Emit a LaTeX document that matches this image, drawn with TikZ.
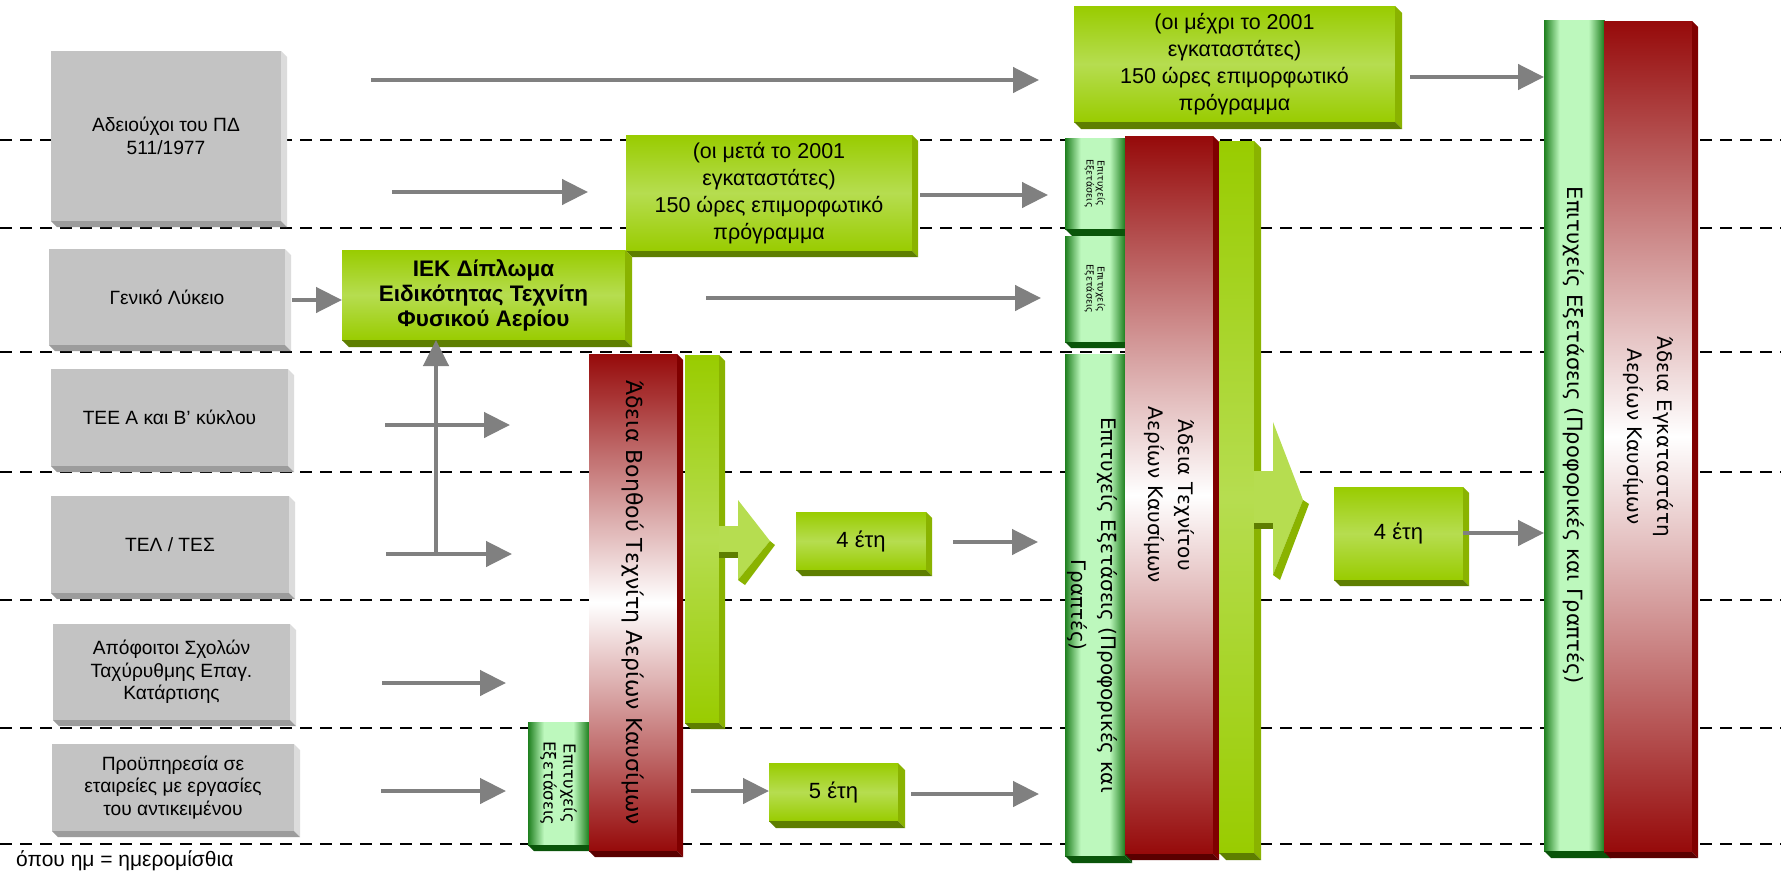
\documentclass[tikz,border=0pt]{standalone}
\usepackage{fontspec}
\setmainfont{Liberation Sans}
\newfontfamily\vfont{DejaVu Sans}
\usetikzlibrary{arrows.meta,calc}
\definecolor{limeA}{HTML}{99CC00}
\definecolor{limeB}{HTML}{B6DD50}
\definecolor{limeS}{HTML}{8AB300}
\definecolor{limeD}{HTML}{5E7E00}
\definecolor{grayM}{HTML}{C3C3C3}
\definecolor{grayS}{HTML}{DCDCDC}
\definecolor{grayD}{HTML}{9C9C9C}
\definecolor{grnD}{HTML}{1E7F1E}
\definecolor{grnL}{HTML}{BDF8BD}
\definecolor{grnB}{HTML}{0A550A}
\definecolor{redA}{HTML}{960A0A}
\definecolor{redS}{HTML}{800000}
\definecolor{redD}{HTML}{5A0000}
\definecolor{arrG}{HTML}{808080}
\pgfdeclarehorizontalshading{cyl}{100bp}{color(0bp)=(grnD); color(25bp)=(grnD); color(38bp)=(grnL); color(62bp)=(grnL); color(75bp)=(grnD); color(100bp)=(grnD)}
\pgfdeclareverticalshading{redsh}{100bp}{color(0bp)=(redA); color(25bp)=(redA); color(50bp)=(white); color(75bp)=(redA); color(100bp)=(redA)}
\pgfdeclareverticalshading{limesh}{100bp}{color(0bp)=(limeA); color(25bp)=(limeA); color(50bp)=(limeB); color(75bp)=(limeA); color(100bp)=(limeA)}
\newcommand\faces[4]{%
  \fill[#2] (#1.north east) -- ++(#4,#4) -- ($(#1.south east)+(#4,#4)$) -- (#1.south east) -- cycle;
  \fill[#3] (#1.south west) -- ++(#4,#4) -- ($(#1.south east)+(#4,#4)$) -- (#1.south east) -- cycle;}
\begin{document}
\begin{tikzpicture}[x=1pt,y=-1pt,
  box/.style={inner sep=0pt, outer sep=0pt, anchor=north west, align=center},
  gbox/.style={box, fill=grayM, font=\fontsize{19.2}{22.5}\selectfont},
  lbox/.style={box, shade, shading=limesh},
  gbar/.style={box, shade, shading=cyl},
  rbar/.style={box, shade, shading=redsh},
  vtext/.style={rotate=-90, align=center, inner sep=0pt, font=\vfont\fontsize{20}{30}\selectfont},
  tiny/.style={rotate=-90, align=center, inner sep=0pt, font=\vfont\fontsize{9.5}{11}\selectfont},
  arr/.style={draw=arrG, line width=4.5pt, -{Triangle[length=26pt,width=25pt]}},
  guide/.style={draw=black, line width=2.8pt, dash pattern=on 12pt off 8pt},
]
\path[use as bounding box, fill=white] (0,0) rectangle (1781,873);
% guide lines
\foreach \yy in {140,228,352,472,600,728,844} \draw[guide] (0,\yy) -- (1781,\yy);

% gray source boxes
\node[gbox, minimum width=230pt, minimum height=170pt] (g1) at (51,51) {Αδειούχοι του ΠΔ\\511/1977};
\faces{g1}{grayS}{grayD}{6}
\node[gbox, minimum width=236pt, minimum height=96pt] (g2) at (49,249) {Γενικό Λύκειο};
\faces{g2}{grayS}{grayD}{6}
\node[gbox, minimum width=237pt, minimum height=97pt] (g3) at (51,369) {ΤΕΕ Α και Β’ κύκλου};
\faces{g3}{grayS}{grayD}{6}
\node[gbox, minimum width=238pt, minimum height=97pt] (g4) at (51,496) {ΤΕΛ / ΤΕΣ};
\faces{g4}{grayS}{grayD}{6}
\node[gbox, minimum width=237pt, minimum height=96pt] (g5) at (53,624) {Απόφοιτοι Σχολών\\Ταχύρυθμης Επαγ.\\Κατάρτισης};
\faces{g5}{grayS}{grayD}{6}
\node[gbox, minimum width=242pt, minimum height=87pt] (g6) at (52,744) {Προϋπηρεσία σε\\εταιρείες με εργασίες\\του αντικειμένου};
\faces{g6}{grayS}{grayD}{6}

% lime boxes
\node[lbox, minimum width=321pt, minimum height=116pt, font=\fontsize{21.5}{27}\selectfont] (tb) at (1074,6) {(οι μέχρι το 2001\\εγκαταστάτες)\\150 ώρες επιμορφωτικό\\πρόγραμμα};
\faces{tb}{limeS}{limeD}{7}
\node[lbox, minimum width=286pt, minimum height=116pt, font=\fontsize{21.5}{27}\selectfont] (mb) at (626,135) {(οι μετά το 2001\\εγκαταστάτες)\\150 ώρες επιμορφωτικό\\πρόγραμμα};
\faces{mb}{limeS}{limeD}{6}
\node[lbox, minimum width=283pt, minimum height=90pt, font=\bfseries\fontsize{22.5}{25}\selectfont] (iek) at (342,250) {ΙΕΚ Δίπλωμα\\Ειδικότητας Τεχνίτη\\Φυσικού Αερίου};
\faces{iek}{limeS}{limeD}{7}

% bottom-left exam bar and helper red bar
\node[gbar, minimum width=61pt, minimum height=123pt] (e5) at (528,722) {};
\faces{e5}{grnB}{grnB}{6}
\node[tiny, font=\vfont\fontsize{16.5}{20}\selectfont] (e5t) at (e5.center) {Επιτυχείς\\Εξετάσεις};
\node[rbar, minimum width=88pt, minimum height=497pt] (r1) at (589,354) {};
\faces{r1}{redS}{redD}{6}
\node[vtext, font=\vfont\fontsize{22}{30}\selectfont] (r1t) at (r1.center) {Άδεια Βοηθού Τεχνίτη Αερίων Καυσίμων};

% lime bar 1 with arrow
\node[lbox, minimum width=34pt, minimum height=368pt] (lb1) at (685,355) {};
\faces{lb1}{limeS}{limeD}{6}
\fill[limeB] (719,526) rectangle (738,552);
\fill[limeD] (719,552) rectangle (738,558);
\fill[limeB] (738,500) -- (770,541) -- (738,580) -- cycle;
\fill[limeS] (770,541) -- (775,545) -- (745,585) -- (738,580) -- cycle;

\node[lbox, minimum width=130pt, minimum height=58pt, font=\fontsize{22}{26}\selectfont] (y4a) at (796,512) {4 έτη};
\faces{y4a}{limeS}{limeD}{6}
\node[lbox, minimum width=129pt, minimum height=58pt, font=\fontsize{22}{26}\selectfont] (y5) at (769,763) {5 έτη};
\faces{y5}{limeS}{limeD}{7}

% column 2
\node[gbar, minimum width=60pt, minimum height=91pt] (e1) at (1065,138) {};
\faces{e1}{grnB}{grnB}{7}
\node[tiny] (e1t) at (e1.center) {Επιτυχείς\\Εξετάσεις};
\node[gbar, minimum width=60pt, minimum height=106pt] (e2) at (1065,236) {};
\faces{e2}{grnB}{grnB}{6}
\node[tiny] (e2t) at (e2.center) {Επιτυχείς\\Εξετάσεις};
\node[gbar, minimum width=60pt, minimum height=502pt] (e3) at (1065,354) {};
\faces{e3}{grnB}{grnB}{7}
\node[rbar, minimum width=88pt, minimum height=718pt] (r2) at (1125,136) {};
\faces{r2}{redS}{redD}{6}
\node[vtext] (e3t) at ([xshift=-3pt]e3.center) {Επιτυχείς Εξετάσεις (Προφορικές και\\Γραπτές)};
\node[vtext] (r2t) at (r2.center) {Άδεια Τεχνίτου\\Αερίων Καυσίμων};

\node[lbox, minimum width=35pt, minimum height=712pt] (lb2) at (1219,141) {};
\faces{lb2}{limeS}{limeD}{7}
\fill[limeB] (1254,471) rectangle (1273,523);
\fill[limeD] (1254,523) rectangle (1273,529);
\fill[limeB] (1273,422) -- (1303,500) -- (1273,575) -- cycle;
\fill[limeS] (1303,500) -- (1309,504) -- (1280,580) -- (1273,575) -- cycle;

\node[lbox, minimum width=129pt, minimum height=93pt, font=\fontsize{22}{26}\selectfont] (y4b) at (1334,487) {4 έτη};
\faces{y4b}{limeS}{limeD}{6}

% right column
\node[gbar, minimum width=60pt, minimum height=831pt] (e4) at (1544,20) {};
\faces{e4}{grnB}{grnB}{7}
\node[rbar, minimum width=88pt, minimum height=831pt] (r3) at (1604,21) {};
\faces{r3}{redS}{redD}{6}
\node[vtext, font=\vfont\fontsize{21}{30}\selectfont] (e4t) at (e4.center) {Επιτυχείς Εξετάσεις (Προφορικές και Γραπτές)};
\node[vtext] (r3t) at (r3.center) {Άδεια Εγκαταστάτη\\Αερίων Καυσίμων};

% footnote
\node[anchor=base west, inner sep=0pt, font=\fontsize{21}{24}\selectfont] (note) at (16,866) {όπου ημ = ημερομίσθια};

% arrows
\coordinate (a1s) at (371,80);  \coordinate (a1e) at (1039,80);
\coordinate (a2s) at (392,192); \coordinate (a2e) at (588,192);
\coordinate (a3s) at (920,195); \coordinate (a3e) at (1048,195);
\coordinate (a4s) at (1410,77);
\coordinate (a5s) at (292,300);
\coordinate (a6s) at (706,298); \coordinate (a6e) at (1041,298);
\coordinate (a7s) at (385,425); \coordinate (a7e) at (510,425);
\coordinate (a8s) at (386,554); \coordinate (a8e) at (512,554);
\coordinate (a9s) at (436,554);
\coordinate (a10s) at (382,683); \coordinate (a10e) at (506,683);
\coordinate (a11s) at (381,791); \coordinate (a11e) at (506,791);
\coordinate (a12s) at (691,791);
\coordinate (a13s) at (911,794); \coordinate (a13e) at (1039,794);
\coordinate (a14s) at (953,542); \coordinate (a14e) at (1038,542);
\coordinate (a15s) at (1463,533);

\draw[arr] (a1s) -- (a1e);
\draw[arr] (a2s) -- (a2e);
\draw[arr] (a3s) -- (a3e);
\draw[arr] (a4s) -- (a4s -| e4.west);
\draw[arr] (a5s) -- (a5s -| iek.west);
\draw[arr] (a6s) -- (a6e);
\draw[arr] (a7s) -- (a7e);
\draw[arr] (a8s) -- (a8e);
\draw[arr] (a9s) -- (a9s |- iek.south);
\draw[arr] (a10s) -- (a10e);
\draw[arr] (a11s) -- (a11e);
\draw[arr] (a12s) -- (a12s -| y5.west);
\draw[arr] (a13s) -- (a13e);
\draw[arr] (a14s) -- (a14e);
\draw[arr] (a15s) -- (a15s -| e4.west);
\end{tikzpicture}
\end{document}
